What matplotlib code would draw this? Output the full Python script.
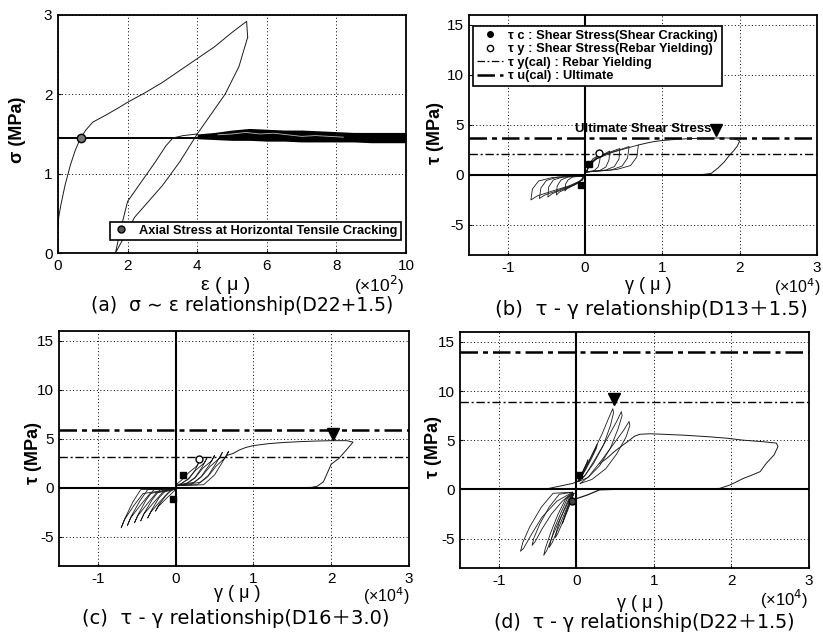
import matplotlib
matplotlib.use("Agg")
import matplotlib.pyplot as plt
from matplotlib.lines import Line2D

plt.rcParams['font.family'] = ['Liberation Sans', 'Noto Sans CJK JP', 'DejaVu Sans']
plt.rcParams['axes.unicode_minus'] = False
CAPTION_FONT = ['DejaVu Sans', 'Noto Sans CJK JP']

# ---------------- (a) sigma - epsilon ----------------
a_eps_up = [0.0, 0.02, 0.08, 0.2, 0.35, 0.5, 0.65, 0.8, 1.0, 1.3, 1.7, 2.0, 2.5, 3.0, 3.5, 4.0, 4.5, 5.0, 5.42, 5.45]
a_sig_up = [0.3, 0.45, 0.6, 0.85, 1.1, 1.3, 1.45, 1.55, 1.65, 1.72, 1.82, 1.9, 2.02, 2.15, 2.3, 2.45, 2.6, 2.78, 2.92, 2.72]
a_eps_down = [5.45, 5.2, 4.8, 4.4, 4.0, 3.5, 3.0, 2.5, 2.2, 1.9, 1.65, 1.8, 2.0, 2.4, 2.8, 3.1, 3.3, 3.6, 4.0]
a_sig_down = [2.72, 2.35, 2.0, 1.75, 1.5, 1.15, 0.85, 0.6, 0.45, 0.2, 0.0, 0.3, 0.65, 0.9, 1.15, 1.35, 1.45, 1.48, 1.5]
a_band_eps = [4.0, 4.5, 5.0, 5.5, 6.0, 6.5, 7.0, 7.5, 8.0, 8.5, 9.0, 9.5, 10.0]
a_band_hi = [1.5, 1.52, 1.55, 1.57, 1.56, 1.55, 1.55, 1.54, 1.53, 1.52, 1.52, 1.52, 1.52]
a_band_lo = [1.44, 1.43, 1.42, 1.42, 1.41, 1.41, 1.40, 1.40, 1.40, 1.40, 1.39, 1.39, 1.39]
a_streak_eps = [4.6, 5.0, 5.4, 5.8, 6.2, 6.6, 7.0, 7.4, 7.8, 8.2]
a_streak_sig = [1.49, 1.5, 1.52, 1.5, 1.51, 1.49, 1.47, 1.48, 1.47, 1.46]
a_crack = (0.65, 1.45)

# ---------------- (b) tau - gamma D13+1.5 ----------------
b_pos_x = [[0.02, 0.12, 0.17, 0.19, 0.20, 0.16, 0.10, 0.06, 0.04, 0.02],
           [0.02, 0.19, 0.27, 0.31, 0.32, 0.26, 0.16, 0.08, 0.04, 0.02],
           [0.02, 0.27, 0.38, 0.44, 0.45, 0.36, 0.23, 0.11, 0.04, 0.02],
           [0.02, 0.34, 0.48, 0.55, 0.57, 0.46, 0.29, 0.13, 0.04, 0.02],
           [0.02, 0.41, 0.59, 0.67, 0.69, 0.55, 0.35, 0.16, 0.04, 0.02]]
b_pos_y = [[0.3, 0.45, 0.8, 1.4, 2.1, 1.9, 1.6, 1.15, 0.65, 0.3],
           [0.3, 0.45, 0.8, 1.5, 2.4, 2.15, 1.8, 1.3, 0.7, 0.3],
           [0.3, 0.5, 0.85, 1.6, 2.65, 2.4, 2.0, 1.45, 0.8, 0.3],
           [0.3, 0.5, 0.9, 1.7, 2.85, 2.55, 2.15, 1.55, 0.85, 0.3],
           [0.3, 0.55, 0.95, 1.8, 3.0, 2.7, 2.25, 1.65, 0.9, 0.3]]
b_neg_x = [[-0.02, -0.16, -0.22, -0.25, -0.26, -0.23, -0.16, -0.08, -0.03, -0.02],
           [-0.02, -0.22, -0.31, -0.36, -0.37, -0.33, -0.22, -0.11, -0.03, -0.02],
           [-0.02, -0.29, -0.41, -0.47, -0.48, -0.42, -0.29, -0.14, -0.03, -0.02],
           [-0.02, -0.35, -0.50, -0.57, -0.59, -0.52, -0.35, -0.18, -0.03, -0.02],
           [-0.02, -0.42, -0.60, -0.68, -0.70, -0.62, -0.42, -0.21, -0.03, -0.02]]
b_neg_y = [[-0.1, -0.2, -0.5, -0.9, -1.6, -1.35, -1.05, -0.7, -0.3, -0.1],
           [-0.1, -0.2, -0.5, -1.1, -2.0, -1.7, -1.3, -0.9, -0.4, -0.1],
           [-0.1, -0.2, -0.5, -1.2, -2.2, -1.85, -1.45, -1.0, -0.45, -0.1],
           [-0.1, -0.2, -0.55, -1.3, -2.35, -2.0, -1.55, -1.05, -0.45, -0.1],
           [-0.1, -0.25, -0.6, -1.4, -2.5, -2.1, -1.6, -1.1, -0.5, -0.1]]
b_env_x = [0.69, 0.8, 0.9, 1.0, 1.15, 1.3, 1.5, 1.7, 1.85, 1.95, 2.0, 1.97, 1.92, 1.87, 1.8, 1.72, 1.63, 1.5, 1.4]
b_env_y = [3.0, 3.2, 3.35, 3.45, 3.55, 3.62, 3.68, 3.7, 3.7, 3.6, 3.4, 2.9, 2.4, 2.0, 1.3, 0.7, 0.15, 0.03, 0.0]
b_tau_y_cal = 2.1
b_tau_u_cal = 3.7
b_tc = [(0.05, 1.1), (-0.05, -1.0)]
b_ty = (0.18, 2.2)
b_ult = (1.7, 4.5)

# ---------------- (c) tau - gamma D16+3.0 ----------------
c_pos_x = [[0.0, 0.05, 0.17, 0.25, 0.30, 0.27, 0.17, 0.08, 0.02, 0.0],
           [0.0, 0.12, 0.25, 0.34, 0.40, 0.37, 0.26, 0.16, 0.08, 0.0],
           [0.0, 0.20, 0.33, 0.43, 0.50, 0.47, 0.35, 0.25, 0.16, 0.0],
           [0.0, 0.28, 0.42, 0.52, 0.60, 0.57, 0.44, 0.33, 0.24, 0.0],
           [0.0, 0.36, 0.50, 0.60, 0.68, 0.65, 0.52, 0.41, 0.32, 0.0]]
c_pos_y = [[0.2, 0.3, 0.9, 1.8, 2.6, 2.2, 1.55, 0.8, 0.4, 0.2],
           [0.2, 0.3, 1.05, 2.1, 3.0, 2.55, 1.8, 0.9, 0.45, 0.2],
           [0.2, 0.3, 1.15, 2.3, 3.3, 2.8, 2.0, 1.0, 0.5, 0.2],
           [0.2, 0.3, 1.25, 2.5, 3.6, 3.05, 2.15, 1.1, 0.55, 0.2],
           [0.2, 0.3, 1.3, 2.6, 3.7, 3.15, 2.2, 1.1, 0.55, 0.2]]
c_neg_x = [[0.0, -0.05, -0.13, -0.22, -0.26, -0.22, -0.12, -0.02, 0.0],
           [0.0, -0.12, -0.22, -0.31, -0.36, -0.32, -0.20, -0.09, 0.0],
           [0.0, -0.20, -0.30, -0.40, -0.45, -0.41, -0.28, -0.17, 0.0],
           [0.0, -0.28, -0.38, -0.48, -0.53, -0.49, -0.36, -0.25, 0.0],
           [0.0, -0.36, -0.46, -0.57, -0.62, -0.58, -0.45, -0.33, 0.0],
           [0.0, -0.45, -0.55, -0.65, -0.70, -0.66, -0.54, -0.42, 0.0]]
c_neg_y = [[-0.1, -0.2, -0.85, -1.8, -2.4, -1.9, -1.1, -0.35, -0.1],
           [-0.1, -0.2, -1.1, -2.3, -3.1, -2.5, -1.4, -0.45, -0.1],
           [-0.1, -0.2, -1.2, -2.55, -3.4, -2.7, -1.5, -0.5, -0.1],
           [-0.1, -0.2, -1.25, -2.7, -3.6, -2.9, -1.6, -0.55, -0.1],
           [-0.1, -0.2, -1.35, -2.9, -3.85, -3.1, -1.75, -0.6, -0.1],
           [-0.1, -0.2, -1.45, -3.1, -4.1, -3.3, -1.85, -0.6, -0.1]]
c_env_x = [0.66, 0.74, 0.82, 0.9, 1.0, 1.2, 1.4, 1.6, 1.8, 2.0, 2.2, 2.28, 2.2, 2.1, 2.0, 1.95, 1.9, 1.82, 1.75, 1.6]
c_env_y = [3.3, 3.5, 3.85, 4.1, 4.3, 4.5, 4.62, 4.7, 4.76, 4.8, 4.8, 4.65, 3.9, 3.0, 2.4, 1.5, 0.6, 0.15, 0.03, 0.0]
c_tau_y_cal = 3.1
c_tau_u_cal = 5.9
c_tc = [(0.09, 1.3), (-0.03, -1.2)]
c_ty = (0.30, 2.9)
c_ult = (2.02, 5.5)

# ---------------- (d) tau - gamma D22+1.5 ----------------
d_pos_x = [[0.02, 0.06, 0.10, 0.14, 0.15, 0.13, 0.09, 0.05, 0.02],
           [0.02, 0.08, 0.16, 0.23, 0.27, 0.26, 0.20, 0.12, 0.05, 0.02],
           [0.02, 0.08, 0.2, 0.33, 0.42, 0.47, 0.48, 0.44, 0.35, 0.22, 0.1, 0.02],
           [0.03, 0.12, 0.26, 0.40, 0.52, 0.58, 0.59, 0.54, 0.44, 0.30, 0.15, 0.03],
           [0.05, 0.16, 0.32, 0.47, 0.61, 0.68, 0.69, 0.64, 0.52, 0.38, 0.20, 0.05]]
d_pos_y = [[0.8, 1.4, 2.1, 2.7, 3.0, 2.6, 1.9, 1.2, 0.8],
           [0.8, 1.6, 2.8, 3.9, 4.6, 4.2, 3.2, 2.0, 1.1, 0.8],
           [0.8, 1.5, 3.5, 5.6, 7.3, 8.2, 7.8, 6.5, 4.5, 2.6, 1.3, 0.8],
           [0.8, 1.5, 3.3, 5.2, 6.9, 7.9, 7.5, 6.2, 4.2, 2.4, 1.2, 0.8],
           [0.6, 1.3, 2.9, 4.5, 6.0, 6.9, 6.5, 5.3, 3.6, 2.1, 1.0, 0.6]]
d_neg_x = [[-0.03, -0.07, -0.11, -0.15, -0.18, -0.16, -0.12, -0.08, -0.05, -0.03],
           [-0.04, -0.10, -0.16, -0.22, -0.26, -0.27, -0.24, -0.18, -0.12, -0.07, -0.04],
           [-0.05, -0.12, -0.20, -0.28, -0.33, -0.35, -0.31, -0.24, -0.16, -0.09, -0.05],
           [-0.05, -0.14, -0.24, -0.33, -0.40, -0.42, -0.38, -0.30, -0.21, -0.11, -0.05],
           [-0.05, -0.22, -0.35, -0.47, -0.55, -0.57, -0.53, -0.44, -0.32, -0.18, -0.05],
           [-0.05, -0.30, -0.45, -0.60, -0.69, -0.72, -0.68, -0.58, -0.44, -0.25, -0.05]]
d_neg_y = [[-0.4, -1.0, -1.8, -2.7, -3.5, -3.1, -2.3, -1.5, -0.8, -0.4],
           [-0.4, -1.0, -2.1, -3.3, -4.4, -4.9, -4.5, -3.4, -2.2, -1.1, -0.4],
           [-0.4, -1.0, -2.4, -3.9, -5.3, -5.9, -5.4, -4.1, -2.6, -1.3, -0.4],
           [-0.4, -1.0, -2.6, -4.4, -6.0, -6.7, -6.2, -4.6, -3.0, -1.4, -0.4],
           [-0.3, -0.5, -1.8, -3.5, -5.0, -5.7, -5.3, -4.0, -2.5, -1.2, -0.3],
           [-0.3, -0.4, -1.8, -3.8, -5.4, -6.3, -6.0, -4.6, -2.8, -1.2, -0.3]]
d_link1_x = [-0.35, -0.2, -0.05, 0.02]
d_link1_y = [0.1, 0.35, 0.6, 0.8]
d_link2_x = [0.0, 0.15, 0.30, 0.5]
d_link2_y = [-0.95, -0.55, -0.05, 0.0]
d_env_x = [0.30, 0.40, 0.50, 0.60, 0.67, 0.75, 0.82, 0.95, 1.12, 1.4, 1.7, 1.94, 2.15, 2.4, 2.58, 2.6,
           2.55, 2.45, 2.37, 2.25, 2.15, 2.05, 1.98, 1.85, 1.63]
d_env_y = [2.6, 3.2, 3.9, 4.5, 4.9, 5.4, 5.6, 5.65, 5.6, 5.5, 5.35, 5.2, 5.0, 4.85, 4.7, 4.35,
           3.5, 2.65, 1.8, 1.4, 1.1, 0.7, 0.44, 0.1, 0.0]
d_tau_y_cal = 8.9
d_tau_u_cal = 14.0
d_tc = [(0.03, 1.5), (-0.05, -1.2)]
d_ult = (0.48, 9.2)

W, H = 823, 636
DD_THIN = (0, (6, 2, 1.5, 2))
DD_THICK = (0, (7, 2, 2, 2))
LINE = '#1a1a1a'


def frame(l, t, r, b):
    return [l / W, 1 - b / H, (r - l) / W, (b - t) / H]


def ftext(x, y, s, **kw):
    fig.text(x / W, 1 - y / H, s, ha='center', va='center', **kw)


def style(ax, xlim, ylim, xticks, yticks):
    ax.set_xlim(*xlim)
    ax.set_ylim(*ylim)
    ax.set_xticks(xticks)
    ax.set_yticks(yticks)
    ax.grid(True, color='k', ls=(0, (1, 2.5)), lw=0.7)
    ax.tick_params(direction='in', length=2, labelsize=11, pad=4)
    for sp in ax.spines.values():
        sp.set_linewidth(1.3)


def tau_panel(ax, pos_x, pos_y, neg_x, neg_y, env_x, env_y, ty_cal, tu_cal):
    style(ax, (-1.5, 3), (-8, 16), [-1, 0, 1, 2, 3], [-5, 0, 5, 10, 15])
    ax.axhline(0, color='k', lw=1.5, zorder=3)
    ax.axvline(0, color='k', lw=1.5, zorder=3)
    ax.axhline(ty_cal, color='k', ls=DD_THIN, lw=1.0)
    ax.axhline(tu_cal, color='k', ls=DD_THICK, lw=1.8)
    for xs, ys in zip(pos_x, pos_y):
        ax.plot(xs, ys, color=LINE, lw=0.6)
    for xs, ys in zip(neg_x, neg_y):
        ax.plot(xs, ys, color=LINE, lw=0.6)
    ax.plot(env_x, env_y, color=LINE, lw=0.7)


fig = plt.figure(figsize=(W / 100, H / 100), dpi=100)

# (a)
ax = fig.add_axes(frame(58, 15, 406, 253))
style(ax, (0, 10), (0, 3), [0, 2, 4, 6, 8, 10], [0, 1, 2, 3])
ax.axhline(a_crack[1], color='k', lw=1.4)
ax.plot(a_eps_up, a_sig_up, color=LINE, lw=0.7)
ax.plot(a_eps_down, a_sig_down, color=LINE, lw=0.7)
ax.fill_between(a_band_eps, a_band_lo, a_band_hi, color='k', lw=0)
ax.plot(a_streak_eps, a_streak_sig, color='#bbbbbb', lw=0.6)
ax.plot(*a_crack, marker='o', ms=6, mfc='#777777', mec='k', ls='none', zorder=5)
h = Line2D([], [], marker='o', ms=5, mfc='#555555', mec='k', ls='none')
leg = ax.legend([h], ['Axial Stress at Horizontal Tensile Cracking'], loc='lower right',
                bbox_to_anchor=(0.985, 0.055), borderaxespad=0, fancybox=False,
                edgecolor='k', framealpha=1, handlelength=1.2, borderpad=0.25,
                prop={'size': 9.2, 'weight': 'bold'})
leg.get_frame().set_linewidth(1.2)
ftext(18, 130, 'σ (MPa)', rotation=90, fontsize=13, fontweight='bold')
ftext(226, 285, 'ε ( μ )', fontsize=14)
ftext(379, 285, '(×10$^2$)', fontsize=12.5)
ftext(242, 305, '(a)  σ ∼ ε relationship(D22+1.5)', fontsize=13.5, family=CAPTION_FONT)

# (b)
ax = fig.add_axes(frame(469, 15, 817, 255))
tau_panel(ax, b_pos_x, b_pos_y, b_neg_x, b_neg_y, b_env_x, b_env_y, b_tau_y_cal, b_tau_u_cal)
for p in b_tc:
    ax.plot(*p, marker='s', ms=4.5, color='k', ls='none', zorder=5)
ax.plot(*b_ty, marker='o', ms=5, mfc='white', mec='k', ls='none', zorder=5)
ax.plot(*b_ult, marker='v', ms=8, color='k', ls='none')
ax.text(b_ult[0] - 0.07, b_ult[1] + 0.1, 'Ultimate Shear Stress', ha='right', va='center',
        fontsize=9.5, fontweight='bold')
handles = [Line2D([], [], marker='o', ms=4, color='k', ls='none'),
           Line2D([], [], marker='o', ms=4.5, mfc='white', mec='k', ls='none'),
           Line2D([], [], color='k', ls=DD_THIN, lw=0.9),
           Line2D([], [], color='k', ls=DD_THICK, lw=1.8)]
labels = ['τ c : Shear Stress(Shear Cracking)', 'τ y : Shear Stress(Rebar Yielding)',
          'τ y(cal) : Rebar Yielding', 'τ u(cal) : Ultimate']
leg = ax.legend(handles, labels, loc='upper left', bbox_to_anchor=(0.012, 0.955),
                borderaxespad=0, fancybox=False, edgecolor='k', framealpha=1,
                handlelength=2.0, handletextpad=0.4, borderpad=0.3, labelspacing=0.12,
                prop={'size': 9.3, 'weight': 'bold'})
leg.get_frame().set_linewidth(1.2)
ftext(436, 133, 'τ (MPa)', rotation=90, fontsize=13, fontweight='bold')
ftext(648, 285, 'γ ( μ )', fontsize=13)
ftext(797, 287, '(×10$^4$)', fontsize=11.5)
ftext(651, 309, '(b)  τ - γ relationship(D13＋1.5)', fontsize=14.2, family=CAPTION_FONT)

# (c)
ax = fig.add_axes(frame(59, 331, 409, 566))
tau_panel(ax, c_pos_x, c_pos_y, c_neg_x, c_neg_y, c_env_x, c_env_y, c_tau_y_cal, c_tau_u_cal)
for p in c_tc:
    ax.plot(*p, marker='s', ms=4.5, color='k', ls='none', zorder=5)
ax.plot(*c_ty, marker='o', ms=5, mfc='white', mec='k', ls='none', zorder=5)
ax.plot(*c_ult, marker='v', ms=8, color='k', ls='none')
ftext(33, 453, 'τ (MPa)', rotation=90, fontsize=13, fontweight='bold')
ftext(237, 594, 'γ ( μ )', fontsize=13)
ftext(386, 596, '(×10$^4$)', fontsize=11.5)
ftext(236, 619, '(c)  τ - γ relationship(D16＋3.0)', fontsize=14, family=CAPTION_FONT)

# (d)
ax = fig.add_axes(frame(460, 332, 809, 568))
tau_panel(ax, d_pos_x, d_pos_y, d_neg_x, d_neg_y, d_env_x, d_env_y, d_tau_y_cal, d_tau_u_cal)
ax.plot(d_link1_x, d_link1_y, color=LINE, lw=0.7)
ax.plot(d_link2_x, d_link2_y, color=LINE, lw=0.9)
ax.plot(*d_tc[0], marker='s', ms=4.5, color='k', ls='none', zorder=5)
ax.plot(*d_tc[1], marker='o', ms=5, color='#444444', mec='k', ls='none', zorder=5)
ax.plot(*d_ult, marker='v', ms=8, color='k', ls='none')
ftext(434, 447, 'τ (MPa)', rotation=90, fontsize=13, fontweight='bold')
ftext(640, 603, 'γ ( μ )', fontsize=13)
ftext(784, 599, '(×10$^4$)', fontsize=12)
ftext(644, 622, '(d)  τ - γ relationship(D22＋1.5)', fontsize=13.7, family=CAPTION_FONT)

fig.savefig('out.png', dpi=100)
